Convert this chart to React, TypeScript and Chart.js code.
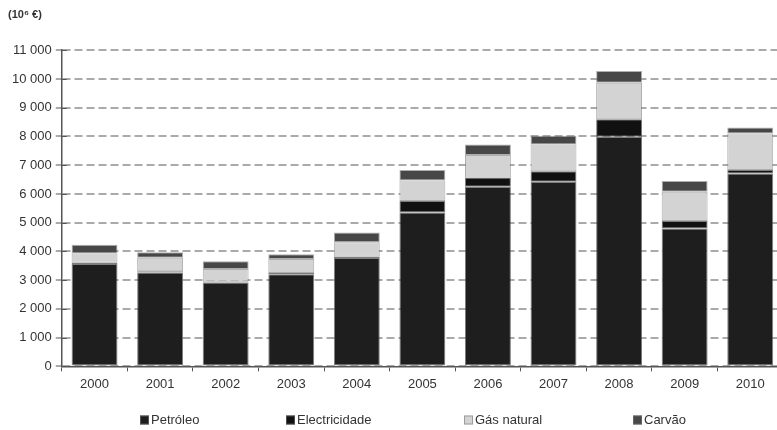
import React, { useEffect, useRef } from "react";
import { Chart, registerables } from "chart.js";

Chart.register(...registerables);

const years = ["2000", "2001", "2002", "2003", "2004", "2005", "2006", "2007", "2008", "2009", "2010"];
const petroleo = [3560, 3270, 2920, 3210, 3770, 5350, 6250, 6420, 7990, 4800, 6710];
const electricidade = [50, 40, 30, 40, 50, 400, 320, 370, 610, 260, 120];
const gasNatural = [320, 470, 440, 490, 500, 720, 780, 930, 1270, 1020, 1270];
const carvao = [300, 190, 270, 160, 340, 360, 370, 300, 410, 370, 210];

const seriesNames = ["Petróleo", "Electricidade", "Gás natural", "Carvão"];
const seriesColors = ["#1e1e1e", "#111111", "#d3d3d3", "#474747"];
const yTicks = [0, 1000, 2000, 3000, 4000, 5000, 6000, 7000, 8000, 9000, 10000, 11000];
const legendX = [140, 286, 464, 633];

const FONT = "'Liberation Sans', Arial, sans-serif";
const W = 783;
const H = 430;

const fmt = (v: number) => {
  const s = String(Math.round(v));
  return s.length > 3 ? s.slice(0, s.length - 3) + " " + s.slice(-3) : s;
};

const legendPlugin = {
  id: "customLegend",
  afterDraw(chart: any) {
    const ctx = chart.ctx;
    const y = 420;
    ctx.save();
    ctx.font = `13px ${FONT}`;
    ctx.textBaseline = "middle";
    ctx.textAlign = "left";
    chart.data.datasets.forEach((ds: any, i: number) => {
      const x = legendX[i];
      ctx.fillStyle = ds.backgroundColor;
      ctx.fillRect(x, y - 4.5, 9, 9);
      ctx.strokeStyle = "rgba(120,120,120,0.6)";
      ctx.lineWidth = 1;
      ctx.strokeRect(x + 0.5, y - 4, 8, 8);
      ctx.fillStyle = "#333";
      ctx.fillText(ds.label, x + 11, y);
    });
    ctx.restore();
  },
};

const yTickCross = {
  id: "yTickCross",
  afterDatasetsDraw(chart: any) {
    const ctx = chart.ctx;
    const ys = chart.scales.y;
    const left = chart.chartArea.left;
    ctx.save();
    ctx.strokeStyle = "#555";
    ctx.lineWidth = 1;
    ys.ticks.forEach((t: any) => {
      const py = Math.round(ys.getPixelForValue(t.value)) + 0.5;
      ctx.beginPath();
      ctx.moveTo(left, py);
      ctx.lineTo(left + 5, py);
      ctx.stroke();
    });
    ctx.restore();
  },
};

export default function App() {
  const ref = useRef<HTMLCanvasElement | null>(null);
  useEffect(() => {
    if (!ref.current) return;
    const font = { family: FONT, size: 13 };
    const data = [petroleo, electricidade, gasNatural, carvao];
    const chart = new Chart(ref.current, {
      type: "bar",
      data: {
        labels: years,
        datasets: seriesNames.map((n, i) => ({
          label: n,
          data: data[i],
          backgroundColor: seriesColors[i],
          borderColor: i < 2 ? "rgba(70,70,70,0.7)" : "rgba(120,120,120,0.6)",
          borderWidth: 1,
          borderSkipped: false,
          categoryPercentage: 0.7,
          barPercentage: 1,
        })),
      },
      plugins: [legendPlugin, yTickCross],
      options: {
        animation: false,
        responsive: false,
        maintainAspectRatio: false,
        layout: { padding: { left: 8, right: 0, top: 0, bottom: 33 } },
        plugins: {
          title: {
            display: true,
            text: "(10⁶ €)",
            align: "start",
            color: "#333",
            font: { family: FONT, size: 11, weight: "bold" },
            padding: { top: 8, bottom: 29 },
          },
          legend: { display: false },
          tooltip: { enabled: false },
        },
        scales: {
          x: {
            stacked: true,
            grid: { display: true, drawOnChartArea: false, drawTicks: true, tickLength: 5, color: "#555", offset: true },
            border: { display: true, color: "#555", width: 1.5 },
            ticks: { color: "#333", font, padding: 5 },
          },
          y: {
            stacked: true,
            min: 0,
            max: 11000,
            afterBuildTicks: (axis: any) => {
              axis.ticks = yTicks.map((v) => ({ value: v }));
            },
            grid: { color: "#aaa", lineWidth: 2, tickLength: 6, tickColor: "#555", tickWidth: 1 },
            border: { display: true, color: "#555", width: 1.5, dash: [8, 4] },
            ticks: { color: "#333", font, padding: 4, callback: (v: any) => fmt(Number(v)) },
          },
        },
      },
    });
    return () => chart.destroy();
  }, []);
  return (
    <div style={{ position: "fixed", left: 0, top: 0, width: 777, height: H, overflow: "hidden", background: "#fff" }}>
      <canvas ref={ref} width={W} height={H} style={{ width: W, height: H, display: "block" }} />
    </div>
  );
}
